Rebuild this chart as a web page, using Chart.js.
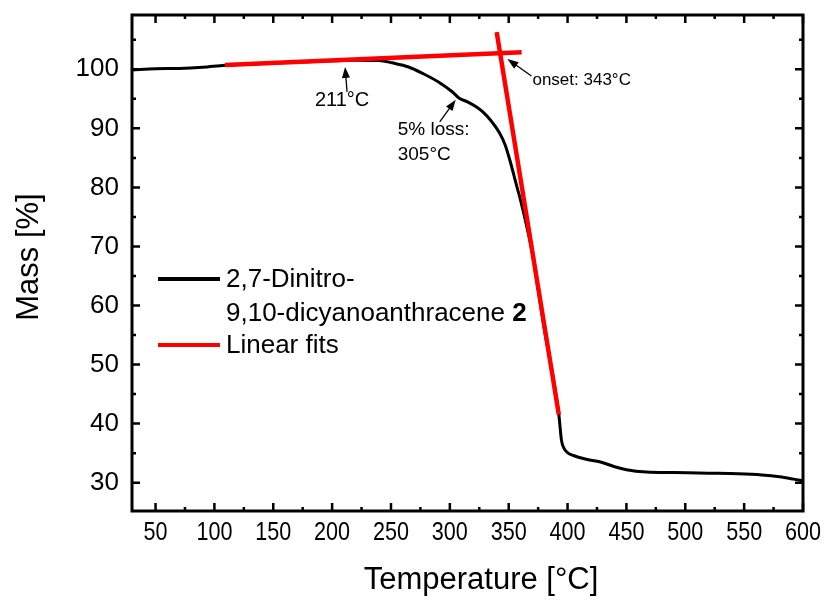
<!DOCTYPE html>
<html>
<head>
<meta charset="utf-8">
<script src="https://cdn.jsdelivr.net/npm/chart.js@4.4.1/dist/chart.umd.min.js"></script>
<style>
  html, body { margin: 0; padding: 0; background: #fff; }
  #wrap { width: 830px; height: 604px; }
</style>
</head>
<body>
<div id="wrap"><canvas id="tga"></canvas></div>
<script>
// TGA trace
const temps = [30, 50, 70, 90, 109, 150, 200, 221, 240, 251, 265, 277, 290, 302, 308, 315, 322, 328, 335, 342, 347, 351, 357, 360, 366, 370, 380, 392.6, 394.8, 397, 400, 405, 415, 428, 440, 450, 467, 490, 520, 545, 565, 580, 592, 600];
const mass = [99.9, 100.1, 100.15, 100.35, 100.7, 101.05, 101.45, 101.55, 101.5, 101.1, 100.4, 99.3, 97.9, 96.2, 95.1, 94.5, 93.7, 92.8, 91.3, 89.3, 87.2, 84.6, 80.1, 77.9, 72.8, 68.9, 56.3, 41.5, 37.2, 35.8, 35.1, 34.6, 34.0, 33.5, 32.7, 32.2, 31.8, 31.7, 31.6, 31.5, 31.3, 31.0, 30.6, 30.3];

// linear fits: baseline and decomposition step
const baseFitT = [109, 361];
const baseFitM = [100.73, 102.88];
const stepFitT = [339.8, 392.6];
const stepFitM = [106.3, 41.5];

// marked temperatures
const markT = [211, 305, 343];
const markM = [101.6, 95.0, 102.75];

const xTicks = [50, 100, 150, 200, 250, 300, 350, 400, 450, 500, 550, 600];
const xMinor = [75, 125, 175, 225, 275, 325, 375, 425, 475, 525, 575];
const yTicks = [30, 40, 50, 60, 70, 80, 90, 100];
const yMinor = [35, 45, 55, 65, 75, 85, 95, 105];

const FONT = "Arial, 'Liberation Sans', sans-serif";

const pts = (xs, ys) => xs.map((x, i) => ({ x: x, y: ys[i] }));

// frame with inward ticks on all four sides, x labels and axis titles
const framePlugin = {
  id: 'frame',
  afterDatasetsDraw(chart) {
    const { ctx, chartArea: a, scales: { x, y } } = chart;
    ctx.save();
    ctx.strokeStyle = '#000';
    ctx.lineWidth = 2.5;
    ctx.beginPath();
    xTicks.forEach(v => { const p = x.getPixelForValue(v); ctx.moveTo(p, a.bottom); ctx.lineTo(p, a.bottom - 8); ctx.moveTo(p, a.top); ctx.lineTo(p, a.top + 8); });
    xMinor.forEach(v => { const p = x.getPixelForValue(v); ctx.moveTo(p, a.bottom); ctx.lineTo(p, a.bottom - 4); ctx.moveTo(p, a.top); ctx.lineTo(p, a.top + 4); });
    yTicks.forEach(v => { const p = y.getPixelForValue(v); ctx.moveTo(a.left, p); ctx.lineTo(a.left + 8, p); ctx.moveTo(a.right, p); ctx.lineTo(a.right - 8, p); });
    yMinor.forEach(v => { const p = y.getPixelForValue(v); ctx.moveTo(a.left, p); ctx.lineTo(a.left + 4, p); ctx.moveTo(a.right, p); ctx.lineTo(a.right - 4, p); });
    ctx.stroke();
    ctx.lineWidth = 3;
    ctx.strokeRect(a.left, a.top, a.right - a.left, a.bottom - a.top);

    // x labels are set a little condensed
    ctx.fillStyle = '#000';
    ctx.textAlign = 'center';
    ctx.textBaseline = 'middle';
    ctx.font = '26px ' + FONT;
    xTicks.forEach(v => {
      ctx.save();
      ctx.translate(x.getPixelForValue(v), a.bottom + 22);
      ctx.scale(0.83, 1);
      ctx.fillText(String(v), 0, 0);
      ctx.restore();
    });

    ctx.font = '31px ' + FONT;
    ctx.fillText('Temperature [°C]', 481, 580);
    ctx.save();
    ctx.translate(29, 257);
    ctx.rotate(-Math.PI / 2);
    ctx.fillText('Mass [%]', 0, 0);
    ctx.restore();
    ctx.restore();
  }
};

function arrow(ctx, x0, y0, x1, y1) {
  const ang = Math.atan2(y1 - y0, x1 - x0);
  ctx.beginPath();
  ctx.moveTo(x0, y0);
  ctx.lineTo(x1 - 6 * Math.cos(ang), y1 - 6 * Math.sin(ang));
  ctx.stroke();
  ctx.beginPath();
  ctx.moveTo(x1, y1);
  ctx.lineTo(x1 - 11 * Math.cos(ang) + 4 * Math.sin(ang), y1 - 11 * Math.sin(ang) - 4 * Math.cos(ang));
  ctx.lineTo(x1 - 11 * Math.cos(ang) - 4 * Math.sin(ang), y1 - 11 * Math.sin(ang) + 4 * Math.cos(ang));
  ctx.closePath();
  ctx.fill();
}

// arrows, their labels and the legend
const notesPlugin = {
  id: 'notes',
  afterDraw(chart) {
    const { ctx, scales: { x, y } } = chart;
    ctx.save();
    ctx.strokeStyle = '#000';
    ctx.fillStyle = '#000';
    ctx.lineWidth = 1.3;

    const px = markT.map(t => x.getPixelForValue(t));
    const py = markM.map(m => y.getPixelForValue(m));

    arrow(ctx, px[0] + 2, py[0] + 32, px[0], py[0] + 7);
    arrow(ctx, px[1] - 16, py[1] + 23, px[1], py[1] + 1);
    arrow(ctx, px[2] + 31, py[2] + 23, px[2] + 7, py[2] + 6);

    ctx.textBaseline = 'middle';
    ctx.font = '20px ' + FONT;
    ctx.textAlign = 'center';
    ctx.fillText('211°C', px[0] - 3, py[0] + 41);
    ctx.textAlign = 'left';
    ctx.font = '19px ' + FONT;
    ctx.fillText('5% loss:', px[1] - 58, py[1] + 31);
    ctx.fillText('305°C', px[1] - 58, py[1] + 56);
    ctx.font = '17px ' + FONT;
    ctx.fillText('onset: 343°C', px[2] + 32, py[2] + 27);

    // legend
    ctx.lineWidth = 4;
    ctx.strokeStyle = '#000';
    ctx.beginPath(); ctx.moveTo(158, 279); ctx.lineTo(220, 279); ctx.stroke();
    ctx.strokeStyle = '#ff0000';
    ctx.beginPath(); ctx.moveTo(158, 345); ctx.lineTo(220, 345); ctx.stroke();
    ctx.font = '26px ' + FONT;
    ctx.fillText('2,7-Dinitro-', 226, 280);
    const line2 = '9,10-dicyanoanthracene ';
    ctx.fillText(line2, 226, 314);
    const w = ctx.measureText(line2).width;
    ctx.font = 'bold 26px ' + FONT;
    ctx.fillText('2', 226 + w, 314);
    ctx.font = '26px ' + FONT;
    ctx.fillText('Linear fits', 226, 346);
    ctx.restore();
  }
};

new Chart(document.getElementById('tga'), {
  type: 'line',
  data: {
    datasets: [
      { data: pts(temps, mass), borderColor: '#000', borderWidth: 3, pointRadius: 0, cubicInterpolationMode: 'monotone', order: 2 },
      { data: pts(baseFitT, baseFitM), borderColor: '#ff0000', borderWidth: 4.5, pointRadius: 0, order: 1 },
      { data: pts(stepFitT, stepFitM), borderColor: '#ff0000', borderWidth: 4.5, pointRadius: 0, order: 1 }
    ]
  },
  options: {
    responsive: true,
    maintainAspectRatio: false,
    animation: false,
    layout: { padding: { top: 15, right: 27, left: 0, bottom: 0 } },
    plugins: { legend: { display: false }, tooltip: { enabled: false } },
    scales: {
      x: {
        type: 'linear', min: 30, max: 600,
        grid: { display: false, drawTicks: false },
        border: { display: false },
        afterBuildTicks: s => { s.ticks = xTicks.map(v => ({ value: v })); },
        afterFit: s => { s.height = 93; s.paddingLeft = 0; s.paddingRight = 0; },
        ticks: { display: false }
      },
      y: {
        type: 'linear', min: 25.2, max: 109.2,
        grid: { display: false, drawTicks: false },
        border: { display: false },
        afterBuildTicks: s => { s.ticks = yTicks.map(v => ({ value: v })); },
        afterFit: s => { s.width = 132; s.paddingTop = 0; s.paddingBottom = 0; },
        ticks: { color: '#000', padding: 13, autoSkip: false, font: { family: FONT, size: 26 } }
      }
    }
  },
  plugins: [framePlugin, notesPlugin]
});
</script>
</body>
</html>
